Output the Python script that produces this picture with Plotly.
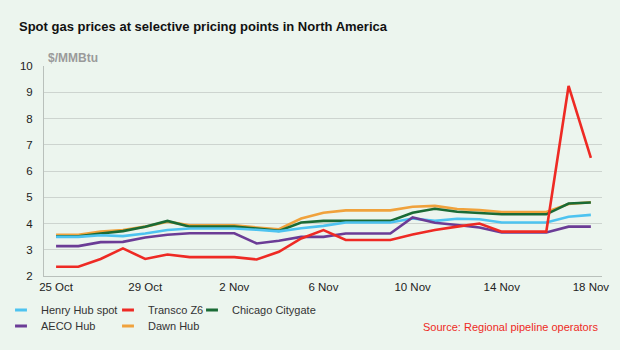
import plotly.graph_objects as go
import pandas as pd

dates = pd.date_range("2021-10-25", "2021-11-18", freq="D")

henry_hub = [3.49, 3.49, 3.55, 3.52, 3.62, 3.75, 3.81, 3.81, 3.81, 3.76, 3.70, 3.82, 3.91,
             4.04, 4.04, 4.04, 4.19, 4.10, 4.18, 4.16, 4.04, 4.04, 4.04, 4.26, 4.33]
transco_z6 = [2.35, 2.35, 2.65, 3.05, 2.65, 2.82, 2.72, 2.72, 2.72, 2.63, 2.92, 3.43, 3.75,
              3.37, 3.37, 3.37, 3.58, 3.75, 3.88, 4.00, 3.69, 3.69, 3.69, 9.24, 6.50]
chicago = [3.51, 3.51, 3.62, 3.71, 3.88, 4.10, 3.88, 3.88, 3.88, 3.81, 3.72, 4.04, 4.10,
           4.10, 4.10, 4.10, 4.41, 4.56, 4.45, 4.41, 4.35, 4.35, 4.35, 4.76, 4.80]
aeco = [3.14, 3.14, 3.29, 3.30, 3.47, 3.57, 3.63, 3.63, 3.63, 3.24, 3.34, 3.49, 3.49,
        3.62, 3.62, 3.62, 4.23, 4.03, 3.94, 3.85, 3.66, 3.66, 3.66, 3.88, 3.88]
dawn = [3.57, 3.57, 3.69, 3.75, 3.88, 4.07, 3.93, 3.93, 3.93, 3.85, 3.78, 4.19, 4.41,
        4.50, 4.50, 4.50, 4.64, 4.67, 4.55, 4.51, 4.44, 4.44, 4.44, 4.74, 4.81]

tick_labels = ["25 Oct", "29 Oct", "2 Nov", "6 Nov", "10 Nov", "14 Nov", "18 Nov"]
tick_vals = list(dates[::4])

C_HENRY = "#4DC3F0"
C_TRANSCO = "#EE2A24"
C_CHICAGO = "#1A6B35"
C_AECO = "#6B3C96"
C_DAWN = "#F0A23C"
BG = "#ECF5EE"
FONT = "Liberation Sans, Arial, sans-serif"

W, H = 620, 350

fig = go.Figure()
# (name, values, colour, legend id, legend left x px, legend row centre y px)
series = [
    ("Dawn Hub", dawn, C_DAWN, "legend5", 108, 326),
    ("Chicago Citygate", chicago, C_CHICAGO, "legend3", 192, 310),
    ("Henry Hub spot", henry_hub, C_HENRY, "legend", 1, 310),
    ("AECO Hub", aeco, C_AECO, "legend4", 1, 326),
    ("Transco Z6", transco_z6, C_TRANSCO, "legend2", 108, 310),
]
legends = {}
for name, vals, col, leg, lx, ly in series:
    # the data line itself
    fig.add_trace(go.Scatter(x=dates, y=vals, name=name, mode="lines",
                             line=dict(color=col, width=2.6),
                             legendgroup=name, showlegend=False))
    # legend key: short dash, as in the reference
    fig.add_trace(go.Scatter(x=[None], y=[None], name=name, mode="markers",
                             marker=dict(symbol="line-ew", size=8.5,
                                         line=dict(color=col, width=3)),
                             legendgroup=name, legend=leg, showlegend=True,
                             hoverinfo="skip"))
    legends[leg] = dict(xref="container", yref="container",
                        x=lx / W, y=1 - ly / H,
                        xanchor="left", yanchor="middle",
                        bgcolor="rgba(0,0,0,0)", orientation="v",
                        font=dict(family=FONT, size=11, color="#333333"),
                        itemwidth=30, visible=True)

fig.update_layout(
    width=W, height=H,
    showlegend=True,
    paper_bgcolor=BG, plot_bgcolor=BG,
    margin=dict(l=44, r=18, t=66, b=74, autoexpand=False),
    font=dict(family=FONT, size=12, color="#222222"),
    title=dict(text="<b>Spot gas prices at selective pricing points in North America</b>",
               x=19 / W, xanchor="left", xref="container",
               y=1 - 26 / H, yanchor="middle", yref="container",
               font=dict(family=FONT, size=13, color="#111111")),
    xaxis=dict(type="date",
               range=["2021-10-24 11:00", "2021-11-18 12:00"],
               tickvals=tick_vals, ticktext=tick_labels, tickangle=0,
               showgrid=False, showline=True, linecolor="#B9C0BB", linewidth=1,
               ticks="", zeroline=False, automargin=False,
               tickfont=dict(family=FONT, size=11.5, color="#222222")),
    yaxis=dict(range=[2, 10], dtick=1, tick0=2,
               showgrid=True, gridcolor="#CDD4CF", gridwidth=1,
               showline=True, linecolor="#B9C0BB", linewidth=1,
               ticks="", zeroline=False, ticklabelstandoff=8, automargin=False,
               tickfont=dict(family=FONT, size=11.5, color="#222222")),
    annotations=[
        dict(text="<b>$/MMBtu</b>", xref="paper", yref="paper",
             x=2 / 558, y=1 + (66 - 58) / 210, xanchor="left", yanchor="middle",
             showarrow=False, font=dict(family=FONT, size=12, color="#9A9A9A")),
        dict(text="Source: Regional pipeline operators", xref="paper", yref="paper",
             x=(600 - 44) / 558, y=(276 - 327) / 210, xanchor="right", yanchor="middle",
             showarrow=False, font=dict(family=FONT, size=11, color=C_TRANSCO)),
    ],
    **legends,
)

fig.write_html("out.html")
